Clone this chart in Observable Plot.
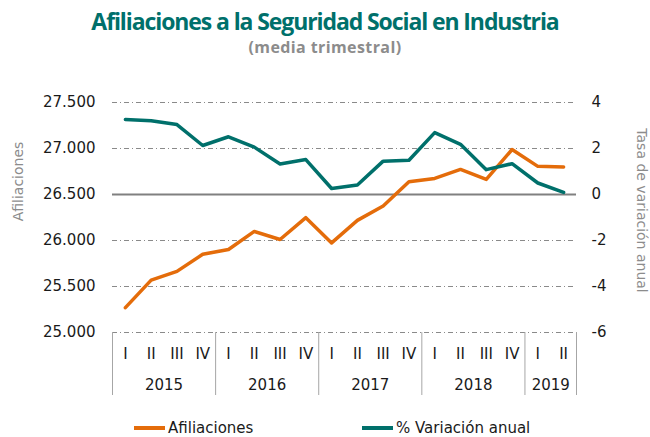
<!DOCTYPE html>
<html><head><meta charset="utf-8">
<script src="https://cdn.jsdelivr.net/npm/d3@7"></script>
<script src="https://cdn.jsdelivr.net/npm/@observablehq/plot@0.6"></script>
<style>
body{margin:0;background:#fff;}
#wrap{width:650px;height:437px;position:relative;overflow:hidden;font-family:"DejaVu Sans",sans-serif;}
#title{position:absolute;left:0;top:9px;width:650px;text-align:center;font-family:"Open Sans",sans-serif;font-weight:700;font-size:23px;line-height:24px;color:#00706b;letter-spacing:-1.1px;white-space:nowrap;}
#subtitle{position:absolute;left:0;top:38px;width:650px;text-align:center;font-family:"Open Sans",sans-serif;font-weight:700;font-size:16px;line-height:18px;color:#8c8c8c;letter-spacing:0.4px;}
#chart{position:absolute;left:0;top:60px;}
#legend{position:absolute;left:0;top:419px;width:650px;height:20px;font-size:15px;color:#1a1a1a;}
.item{position:absolute;top:0;display:flex;align-items:center;}
.sw{width:31px;height:4px;margin-right:3px;}
svg text{font-family:"DejaVu Sans",sans-serif;}
</style></head>
<body>
<div id="wrap">
  <div id="title">Afiliaciones a la Seguridad Social en Industria</div>
  <div id="subtitle">(media trimestral)</div>
  <div id="chart"></div>
  <div id="legend"></div>
</div>
<script>
// ---- data ----
const quarters = ["I","II","III","IV","I","II","III","IV","I","II","III","IV","I","II","III","IV","I","II"];
const years = ["2015","2016","2017","2018","2019"];
const quartersPerYear = [4,4,4,4,2];
const afiliaciones = [25270,25569,25664,25850,25902,26099,26011,26248,25974,26219,26376,26639,26675,26773,26664,26989,26806,26799];
const variacion = [3.26,3.21,3.04,2.13,2.51,2.06,1.33,1.52,0.26,0.41,1.45,1.49,2.69,2.18,1.08,1.34,0.50,0.09];
const leftTicks = [25000,25500,26000,26500,27000,27500];
const rightTicks = [-6,-4,-2,0,2,4];
const seriesNames = ["Afiliaciones","% Variación anual"];
const colors = ["#e46c0a","#00706b"];

// ---- scales / helpers ----
const leftDomain = [25000, 27500];
const rightDomain = [-6, 4];
const toLeft = v => leftDomain[0] + (v - rightDomain[0]) * (leftDomain[1]-leftDomain[0])/(rightDomain[1]-rightDomain[0]);
const fromLeft = y => rightDomain[0] + (y - leftDomain[0]) * (rightDomain[1]-rightDomain[0])/(leftDomain[1]-leftDomain[0]);
const es = d3.formatLocale({decimal:",", thousands:".", grouping:[3], currency:["","€"]});
const fmt = es.format(",d");

const afData = afiliaciones.map((v,i)=>({x:i+0.5, y:v}));
const varData = variacion.map((v,i)=>({x:i+0.5, y:toLeft(v)}));
const qTicks = quarters.map((q,i)=>i+0.5);
let acc = 0; const yearStarts = [0]; const yearMids = [];
quartersPerYear.forEach(n=>{ yearMids.push(acc + n/2); acc += n; yearStarts.push(acc); });

const zeroLeft = toLeft(0);
const gridDashed = leftTicks.filter(t => t !== zeroLeft);
const ff = "DejaVu Sans, sans-serif";

const plot = Plot.plot({
  width: 650, height: 352,
  marginTop: 42, marginBottom: 80, marginLeft: 112, marginRight: 74,
  style: {fontFamily: ff, fontSize: "15px", color: "#1a1a1a", background: "#fff"},
  x: {domain: [0, quarters.length], axis: null},
  y: {domain: leftDomain, axis: null},
  marks: [
    Plot.ruleY(gridDashed, {stroke: "#8a8a8a", strokeWidth: 1, strokeDasharray: "5,3,1,3"}),
    Plot.ruleY([zeroLeft], {stroke: "#808080", strokeWidth: 2.2}),
    Plot.axisY({anchor: "left", ticks: leftTicks, tickSize: 0, tickPadding: 17, tickFormat: fmt, label: null, fontSize: 15, fontFamily: ff}),
    Plot.axisY({anchor: "right", ticks: rightTicks.map(toLeft), tickSize: 0, tickPadding: 15, tickFormat: d => String(Math.round(fromLeft(d))), label: null, fontSize: 15, fontFamily: ff}),
    Plot.axisX({ticks: yearStarts, tickSize: 63, tickFormat: () => "", stroke: "#a6a6a6", label: null}),
    Plot.axisX({ticks: qTicks, tickSize: 0, tickPadding: 16, tickFormat: d => quarters[Math.floor(d)], label: null, fontSize: 15, fontFamily: ff}),
    Plot.axisX({ticks: yearMids, tickSize: 0, tickPadding: 47, tickFormat: d => years[yearMids.indexOf(d)], label: null, fontSize: 15, fontFamily: ff}),
    Plot.text(["Afiliaciones"], {frameAnchor: "left", textAnchor: "middle", dx: -94, dy: -36, rotate: -90, fill: "#8c8c8c", fontSize: 14, fontFamily: ff}),
    Plot.text(["Tasa de variación anual"], {frameAnchor: "right", textAnchor: "middle", dx: 65, dy: -7, rotate: 90, fill: "#8c8c8c", fontSize: 14, fontFamily: ff}),
    Plot.line(afData, {x: "x", y: "y", stroke: colors[0], strokeWidth: 3.5}),
    Plot.line(varData, {x: "x", y: "y", stroke: colors[1], strokeWidth: 3.5})
  ]
});
document.getElementById("chart").appendChild(plot);

// ---- legend ----
const lg = document.getElementById("legend");
const legendX = [134, 362];
seriesNames.forEach((name,i)=>{
  const it = document.createElement("div");
  it.className = "item"; it.style.left = legendX[i] + "px";
  const sw = document.createElement("span"); sw.className = "sw"; sw.style.background = colors[i];
  const tx = document.createElement("span"); tx.textContent = name;
  it.appendChild(sw); it.appendChild(tx); lg.appendChild(it);
});
</script>
</body></html>
